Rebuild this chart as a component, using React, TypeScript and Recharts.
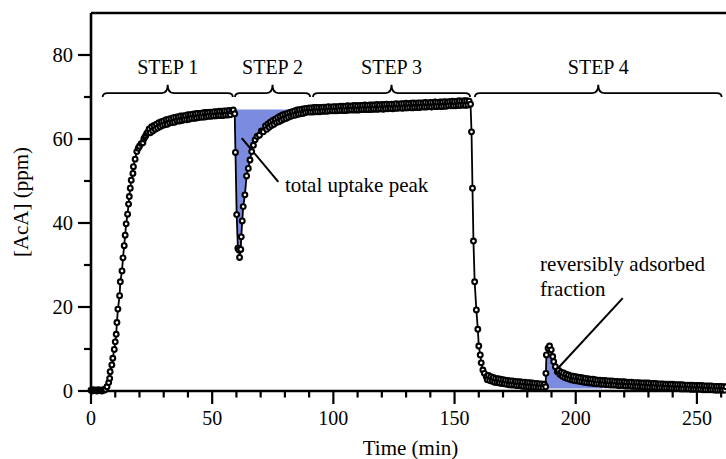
import React from 'react';
import { ComposedChart, Line, Area, XAxis, YAxis, ReferenceLine, ReferenceArea, ReferenceDot } from 'recharts';

// [time (min), AcA (ppm)], one array per step
const step1: [number, number][] = [
  [0, 0.2], [0.5, 0], [1, 0.3], [1.5, 0.1], [2, 0.2], [2.5, 0], [3, 0.3], [3.5, 0.1], [4, 0.2], [4.5, 0],
  [5, 0.3], [5.5, 0.2], [6, 0.4], [6.6, 1.0], [7.3, 2.0], [7.7, 3.0], [7.9, 4.6], [8.6, 6.2], [9.0, 7.8],
  [9.6, 9.9], [10.0, 11.7], [10.4, 13.5], [10.7, 16.3], [11.1, 19.5], [11.8, 22.7], [12.1, 26.0],
  [12.8, 28.6], [13.2, 31.7], [13.7, 34.6], [14.1, 37.1], [14.5, 39.8], [15.1, 42.1], [15.5, 44.5],
  [15.8, 46.3], [16.2, 48.3], [16.6, 50.2], [17.3, 51.8], [17.5, 53.4], [18.2, 55.2], [18.9, 57.0],
  [19.5, 57.8], [20.0, 58.3], [20.7, 58.9], [21.4, 59.1], [21.8, 60.0], [22.2, 60.4], [22.6, 60.8],
  [23.0, 61.3], [23.5, 61.6], [24, 62.4], [24.5, 61.5], [25, 62.9], [25.5, 61.9], [26, 63.2], [26.5, 62.3],
  [27, 63.5], [27.5, 62.6], [28, 63.9], [28.5, 62.9], [29, 64.1], [29.5, 63.2], [30, 64.3], [30.5, 63.4],
  [31, 64.6], [31.5, 63.5], [32, 64.7], [32.5, 63.8], [33, 64.9], [33.5, 63.9], [34, 65.1], [34.5, 64.0],
  [35, 65.2], [35.5, 64.3], [36, 65.3], [36.5, 64.3], [37, 65.5], [37.5, 64.4], [38, 65.5], [38.5, 64.6],
  [39, 65.6], [39.5, 64.6], [40, 65.8], [40.5, 64.7], [41, 65.8], [41.5, 64.9], [42, 65.9], [42.5, 64.9],
  [43, 66.0], [43.5, 65.0], [44, 66.1], [44.5, 65.1], [45, 66.1], [45.5, 65.2], [46, 66.2], [46.5, 65.2],
  [47, 66.3], [47.5, 65.3], [48, 66.3], [48.5, 65.4], [49, 66.4], [49.5, 65.4], [50, 66.4], [50.5, 65.5],
  [51, 66.5], [51.5, 65.5], [52, 66.5], [52.5, 65.6], [53, 66.6], [53.5, 65.6], [54, 66.6], [54.5, 65.6],
  [55, 66.7], [55.5, 65.7], [56, 66.7], [56.5, 65.7], [57, 66.8], [57.5, 65.8], [58, 66.6], [58.7, 66.9],
];

const step2: [number, number][] = [
  [59.3, 66.0], [59.6, 56.8], [60.1, 42.0], [60.6, 34.0], [61.0, 33.6], [61.3, 31.8], [61.8, 33.7],
  [62.0, 36.7], [62.4, 40.5], [62.8, 43.9], [63.5, 46.7], [64.2, 51.2], [64.9, 53.0], [65.6, 55.0],
  [66.3, 57.0], [67.0, 58.5], [67.7, 59.8], [68.5, 60.6], [69.5, 60.9], [70.3, 61.9], [71.1, 61.7],
  [72, 63.1], [72.5, 62.3], [73, 63.6], [73.5, 62.8], [74, 64.0], [74.5, 63.2], [75, 64.4], [75.5, 63.5],
  [76, 64.7], [76.5, 63.9], [77, 65.1], [77.5, 64.1], [78, 65.4], [78.5, 64.4], [79, 65.7], [79.5, 64.7],
  [80, 65.9], [80.5, 64.9], [81, 66.1], [81.5, 65.2], [82, 66.3], [82.5, 65.4], [83, 66.5], [83.5, 65.6],
  [84, 66.7], [84.5, 65.7], [85, 66.9], [85.5, 65.9], [86, 67.0], [86.5, 66.0], [87, 67.1], [87.5, 66.1],
  [88, 67.2], [88.5, 66.3], [89, 67.3], [89.5, 66.4], [90, 67.4],
];

const step3: [number, number][] = [
  [90.5, 66.4], [91, 67.4], [91.5, 66.4], [92, 67.5], [92.5, 66.5], [93, 67.5], [93.5, 66.5], [94, 67.5],
  [94.5, 66.5], [95, 67.5], [95.5, 66.6], [96, 67.6], [96.5, 66.6], [97, 67.6], [97.5, 66.6], [98, 67.7],
  [98.5, 66.7], [99, 67.6], [99.5, 66.7], [100, 67.7], [100.5, 66.7], [101, 67.7], [101.5, 66.7], [102, 67.7],
  [102.5, 66.8], [103, 67.8], [103.5, 66.8], [104, 67.8], [104.5, 66.8], [105, 67.8], [105.5, 66.8], [106, 67.9],
  [106.5, 66.9], [107, 67.8], [107.5, 66.9], [108, 67.9], [108.5, 66.9], [109, 68.0], [109.5, 66.9], [110, 67.9],
  [110.5, 66.9], [111, 68.0], [111.5, 67.0], [112, 68.0], [112.5, 67.0], [113, 68.1], [113.5, 67.0], [114, 68.0],
  [114.5, 67.0], [115, 68.1], [115.5, 67.0], [116, 68.1], [116.5, 67.1], [117, 68.1], [117.5, 67.1], [118, 68.2],
  [118.5, 67.1], [119, 68.1], [119.5, 67.2], [120, 68.2], [120.5, 67.1], [121, 68.2], [121.5, 67.2], [122, 68.3],
  [122.5, 67.2], [123, 68.2], [123.5, 67.3], [124, 68.3], [124.5, 67.2], [125, 68.3], [125.5, 67.3], [126, 68.4],
  [126.5, 67.3], [127, 68.3], [127.5, 67.4], [128, 68.4], [128.5, 67.3], [129, 68.4], [129.5, 67.4], [130, 68.5],
  [130.5, 67.4], [131, 68.4], [131.5, 67.5], [132, 68.5], [132.5, 67.4], [133, 68.6], [133.5, 67.5], [134, 68.5],
  [134.5, 67.5], [135, 68.6], [135.5, 67.5], [136, 68.6], [136.5, 67.6], [137, 68.6], [137.5, 67.6], [138, 68.7],
  [138.5, 67.6], [139, 68.6], [139.5, 67.7], [140, 68.7], [140.5, 67.6], [141, 68.7], [141.5, 67.7], [142, 68.8],
  [142.5, 67.7], [143, 68.7], [143.5, 67.8], [144, 68.8], [144.5, 67.7], [145, 68.8], [145.5, 67.8], [146, 68.9],
  [146.5, 67.8], [147, 68.8], [147.5, 67.9], [148, 68.9], [148.5, 67.9], [149, 69.0], [149.5, 67.9], [150, 68.9],
  [150.5, 67.9], [151, 69.0], [151.5, 68.0], [152, 69.1], [152.5, 68.0], [153, 69.0], [153.5, 68.1], [154, 69.1],
  [154.5, 68.0], [155, 69.1], [155.5, 68.1], [156, 69.0], [156.6, 68.3],
];

const step4: [number, number][] = [
  [157.0, 61.7], [157.4, 48.3], [157.8, 35.7], [158.3, 26.0], [159.0, 19.3], [159.6, 14.7], [160.0, 10.7],
  [160.6, 8.6], [161.0, 6.7], [161.7, 5.0], [162.3, 4.2], [163.1, 3.4], [163.5, 2.7], [164, 3.7], [164.5, 2.5],
  [165, 3.4], [165.5, 2.3], [166, 3.2], [166.5, 2.1], [167, 3.0], [167.5, 2.0], [168, 2.9], [168.5, 1.9],
  [169, 2.8], [169.5, 1.8], [170, 2.7], [170.5, 1.7], [171, 2.6], [171.5, 1.6], [172, 2.5], [172.5, 1.5],
  [173, 2.4], [173.5, 1.4], [174, 2.4], [174.5, 1.4], [175, 2.3], [175.5, 1.3], [176, 2.2], [176.5, 1.3],
  [177, 2.2], [177.5, 1.2], [178, 2.1], [178.5, 1.1], [179, 2.1], [179.5, 1.1], [180, 2.0], [180.5, 1.0],
  [181, 2.0], [181.5, 1.0], [182, 1.9], [182.5, 0.9], [183, 1.8], [183.5, 0.9], [184, 1.8], [184.5, 0.8],
  [185, 1.7], [185.5, 0.8], [186, 1.7], [186.5, 0.8], [187, 1.6], [187.6, 1.0], [187.7, 4.2], [187.9, 8.6],
  [188.6, 10.2], [189.2, 10.7], [189.9, 9.8], [190.5, 8.2], [190.9, 7.0], [191.6, 5.8], [192.4, 4.6],
  [193, 4.9], [193.5, 3.9], [194, 4.5], [194.5, 3.5], [195, 4.3], [195.5, 3.2], [196, 4.0], [196.5, 3.0],
  [197, 3.8], [197.5, 2.8], [198, 3.6], [198.5, 2.6], [199, 3.5], [199.5, 2.5], [200, 3.4], [200.5, 2.4],
  [201, 3.3], [201.5, 2.3], [202, 3.2], [202.5, 2.2], [203, 3.1], [203.5, 2.1], [204, 3.0], [204.5, 2.0],
  [205, 2.9], [205.5, 1.9], [206, 2.8], [206.5, 1.9], [207, 2.8], [207.5, 1.8], [208, 2.7], [208.5, 1.7],
  [209, 2.6], [209.5, 1.7], [210, 2.6], [210.5, 1.6], [211, 2.5], [211.5, 1.6], [212, 2.5], [212.5, 1.5],
  [213, 2.4], [213.5, 1.5], [214, 2.4], [214.5, 1.4], [215, 2.4], [215.5, 1.4], [216, 2.3], [216.5, 1.4],
  [217, 2.3], [217.5, 1.3], [218, 2.2], [218.5, 1.3], [219, 2.2], [219.5, 1.3], [220, 2.2], [220.5, 1.2],
  [221, 2.1], [221.5, 1.2], [222, 2.1], [222.5, 1.2], [223, 2.1], [223.5, 1.1], [224, 2.0], [224.5, 1.1],
  [225, 2.0], [225.5, 1.1], [226, 2.0], [226.5, 1.0], [227, 1.9], [227.5, 1.0], [228, 1.9], [228.5, 1.0],
  [229, 1.9], [229.5, 0.9], [230, 1.9], [230.5, 0.9], [231, 1.8], [231.5, 0.9], [232, 1.8], [232.5, 0.9],
  [233, 1.8], [233.5, 0.8], [234, 1.7], [234.5, 0.8], [235, 1.7], [235.5, 0.8], [236, 1.7], [236.5, 0.7],
  [237, 1.6], [237.5, 0.7], [238, 1.6], [238.5, 0.7], [239, 1.6], [239.5, 0.6], [240, 1.6], [240.5, 0.6],
  [241, 1.5], [241.5, 0.6], [242, 1.5], [242.5, 0.6], [243, 1.5], [243.5, 0.5], [244, 1.5], [244.5, 0.5],
  [245, 1.4], [245.5, 0.5], [246, 1.4], [246.5, 0.5], [247, 1.4], [247.5, 0.4], [248, 1.4], [248.5, 0.4],
  [249, 1.3], [249.5, 0.4], [250, 1.3], [250.5, 0.4], [251, 1.3], [251.5, 0.4], [252, 1.3], [252.5, 0.3],
  [253, 1.2], [253.5, 0.3], [254, 1.2], [254.5, 0.3], [255, 1.2], [255.5, 0.3], [256, 1.2], [256.5, 0.3],
  [257, 1.1], [257.5, 0.2], [258, 1.1], [258.5, 0.2], [259, 1.1], [259.5, 0.2], [260, 1.1], [260.5, 0.2],
  [261, 1.0], [261.5, 0.2], [262, 1.0],
];

// step brackets: label, start, end (min)
const stepLabels = ['STEP 1', 'STEP 2', 'STEP 3', 'STEP 4'];
const stepStart = [4.8, 59.4, 91.6, 158.4];
const stepEnd = [58.5, 90.4, 156.4, 260.2];

// shaded regions
const uptakeTop = 67;
const uptakeRange = [58.7, 88];
const reversibleBase = 0.6;
const reversibleRange = [187.6, 211];

const xTicks = [0, 10, 20, 30, 40, 50, 60, 70, 80, 90, 100, 110, 120, 130, 140, 150, 160, 170, 180, 190, 200, 210, 220, 230, 240, 250, 260];
const xLabelled = [0, 50, 100, 150, 200, 250];
const yTicks = [0, 10, 20, 30, 40, 50, 60, 70, 80];
const yLabelled = [0, 20, 40, 60, 80];

const FONT = '"Liberation Serif", "Times New Roman", serif';
const BLUE = '#7b8be0';

const curve = [...step1, ...step2, ...step3, ...step4].map(([t, ppm]) => ({ t, ppm }));
const uptakeFill = curve
  .filter((d) => d.t >= uptakeRange[0] && d.t <= uptakeRange[1])
  .map((d) => ({ t: d.t, band: [Math.min(d.ppm, uptakeTop), uptakeTop] }));
const reversibleFill = curve
  .filter((d) => d.t >= reversibleRange[0] && d.t <= reversibleRange[1])
  .map((d) => ({ t: d.t, band: [reversibleBase, d.ppm] }));

const XTick = (props: any) => {
  const { x, y, payload } = props;
  const major = xLabelled.includes(payload.value);
  return (
    <g>
      <line x1={x} x2={x} y1={y} y2={y + (major ? 13 : 6.5)} stroke="#000" strokeWidth={2.2} />
      {major && (
        <text x={x} y={y + 34} textAnchor="middle" fontFamily={FONT} fontSize={20} fill="#000">
          {payload.value}
        </text>
      )}
    </g>
  );
};

const YTick = (props: any) => {
  const { x, y, payload } = props;
  const major = yLabelled.includes(payload.value);
  return (
    <g>
      <line x1={x} x2={x - (major ? 13 : 7)} y1={y} y2={y} stroke="#000" strokeWidth={2.2} />
      {major && (
        <text x={x - 18} y={y} textAnchor="end" dominantBaseline="central" fontFamily={FONT} fontSize={20.5} fill="#000">
          {payload.value}
        </text>
      )}
    </g>
  );
};

const Brace = (label: string) => (props: any) => {
  const { x, y, width, height } = props;
  const x0 = x;
  const x1 = x + width;
  const xm = x + width / 2;
  const yb = y + height * 0.68;
  const ye = y + height;
  const d = `M${x0},${ye} Q${x0},${yb} ${x0 + 5},${yb} L${xm - 6},${yb} Q${xm},${yb} ${xm},${y} Q${xm},${yb} ${xm + 6},${yb} L${x1 - 5},${yb} Q${x1},${yb} ${x1},${ye}`;
  return (
    <g>
      <path d={d} fill="none" stroke="#000" strokeWidth={1.8} />
      <text x={xm} y={y - 11} textAnchor="middle" fontFamily={FONT} fontSize={20} fill="#000">
        {label}
      </text>
    </g>
  );
};

export default function App() {
  return (
    <div style={{ position: 'absolute', left: 0, top: 0, background: '#fff' }}>
      <ComposedChart width={726} height={459} margin={{ top: 13, right: 0, bottom: 0, left: 0 }}>
        <XAxis
          dataKey="t"
          type="number"
          domain={[0, 262]}
          ticks={xTicks}
          interval={0}
          tickSize={0}
          tickMargin={0}
          tick={<XTick />}
          height={68}
          axisLine={{ stroke: '#000', strokeWidth: 2.6 }}
          label={({ viewBox }: any) => (
            <text x={viewBox.x + viewBox.width / 2 + 2} y={viewBox.y + 64} textAnchor="middle" fontFamily={FONT} fontSize={21} fill="#000">
              Time (min)
            </text>
          )}
        />
        <YAxis
          type="number"
          domain={[0, 90]}
          ticks={yTicks}
          interval={0}
          tickSize={0}
          tickMargin={0}
          tick={<YTick />}
          width={91}
          axisLine={{ stroke: '#000', strokeWidth: 2.6 }}
          label={({ viewBox }: any) => {
            const cy = viewBox.y + viewBox.height / 2;
            return (
              <text x={28} y={cy} transform={`rotate(-90, 28, ${cy})`} textAnchor="middle" fontFamily={FONT} fontSize={21} fill="#000">
                [AcA] (ppm)
              </text>
            );
          }}
        />
        <ReferenceLine y={90} stroke="#000" strokeWidth={2.6} />
        <Area data={uptakeFill} dataKey="band" type="linear" fill={BLUE} fillOpacity={1} stroke="none" isAnimationActive={false} />
        <Area data={reversibleFill} dataKey="band" type="linear" fill={BLUE} fillOpacity={1} stroke="none" isAnimationActive={false} />
        <Line
          data={curve}
          dataKey="ppm"
          type="linear"
          stroke="#000"
          strokeWidth={1.8}
          dot={{ r: 2.4, fill: '#fff', stroke: '#000', strokeWidth: 2.1 }}
          isAnimationActive={false}
        />
        {stepLabels.map((s, i) => (
          <ReferenceArea key={s} x1={stepStart[i]} x2={stepEnd[i]} y1={70} y2={72.9} shape={Brace(s)} />
        ))}
        <ReferenceLine segment={[{ x: 62.2, y: 60.2 }, { x: 77.3, y: 49.8 }]} stroke="#000" strokeWidth={2} />
        <ReferenceLine segment={[{ x: 219.4, y: 22.1 }, { x: 192, y: 5 }]} stroke="#000" strokeWidth={2} />
        <ReferenceDot
          x={80}
          y={47.5}
          r={0}
          shape={(p: any) => (
            <text x={p.cx} y={p.cy} fontFamily={FONT} fontSize={21} fill="#000">
              total uptake peak
            </text>
          )}
        />
        <ReferenceDot
          x={185.3}
          y={28.6}
          r={0}
          shape={(p: any) => (
            <text x={p.cx} y={p.cy} fontFamily={FONT} fontSize={21} fill="#000">
              <tspan x={p.cx}>reversibly adsorbed</tspan>
              <tspan x={p.cx} dy={25}>fraction</tspan>
            </text>
          )}
        />
      </ComposedChart>
    </div>
  );
}
